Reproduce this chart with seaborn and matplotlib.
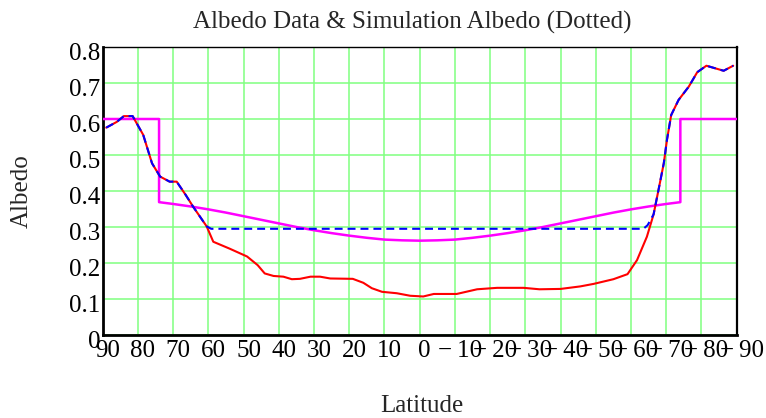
import matplotlib
matplotlib.use("Agg")
import matplotlib.pyplot as plt
import matplotlib.transforms as mtransforms
import seaborn as sns
import pandas as pd

# ---- data ----
data_lat = [89, 86, 84, 81.5, 78.5, 76, 73.7, 71, 69, 66.5, 64.3, 60.5, 58.6, 54, 49, 46,
            44, 41.5, 38.7, 36.3, 34, 31, 28.3, 25.4, 19, 16, 13.6, 10.7, 6.5, 2.7, -1, -4,
            -10.5, -16.3, -22, -29.5, -34, -40, -45.6, -49.4, -55, -59, -61.7, -64.5, -66.4,
            -67.8, -69.3, -70.2, -71.4, -73.5, -76.4, -78.8, -81.4, -86.3, -89]
data_alb = [0.576, 0.592, 0.608, 0.608, 0.556, 0.477, 0.440, 0.426, 0.426, 0.390, 0.356, 0.302,
            0.259, 0.240, 0.218, 0.194, 0.171, 0.164, 0.162, 0.155, 0.156, 0.162, 0.162, 0.157,
            0.156, 0.145, 0.130, 0.120, 0.116, 0.109, 0.107, 0.114, 0.114, 0.127, 0.131, 0.131,
            0.127, 0.128, 0.135, 0.142, 0.155, 0.169, 0.208, 0.273, 0.335, 0.403, 0.477, 0.542,
            0.611, 0.653, 0.690, 0.730, 0.748, 0.734, 0.748]

sim_lat = [89, 86, 84, 81.5, 78.5, 76, 73.7, 71, 69, 66.5, 64.3, 60.5, 59.2, -63.5, -64.7,
           -66.4, -67.8, -69.3, -70.2, -71.4, -73.5, -76.4, -78.8, -81.4, -86.3, -89]
sim_alb = [0.576, 0.592, 0.608, 0.608, 0.556, 0.477, 0.440, 0.426, 0.426, 0.390, 0.356, 0.302,
           0.295, 0.295, 0.305, 0.335, 0.403, 0.477, 0.542, 0.611, 0.653, 0.690, 0.730, 0.748,
           0.734, 0.748]

model_lat = [90, 74, 74, 70, 65, 60, 55, 50, 45, 40, 35, 30, 25, 20, 15, 10, 5, 0,
             -5, -10, -15, -20, -25, -30, -35, -40, -45, -50, -55, -60, -65, -70, -74, -74, -90]
model_alb = [0.600, 0.600, 0.369, 0.364, 0.357, 0.349, 0.340, 0.330, 0.320, 0.310, 0.300,
             0.291, 0.283, 0.276, 0.270, 0.265, 0.263, 0.262, 0.263, 0.265, 0.270, 0.276,
             0.283, 0.291, 0.300, 0.310, 0.320, 0.330, 0.340, 0.349, 0.357, 0.364, 0.369,
             0.600, 0.600]

x_ticks = list(range(90, -91, -10))
x_tick_labels = [str(v) if v >= 0 else "\u2212\u2009" + str(-v) for v in x_ticks]
y_ticks = [0, 0.1, 0.2, 0.3, 0.4, 0.5, 0.6, 0.7, 0.8]
y_tick_labels = ["0", "0.1", "0.2", "0.3", "0.4", "0.5", "0.6", "0.7", "0.8"]

title = "Albedo Data & Simulation Albedo (Dotted)"
xlabel = "Latitude"
ylabel = "Albedo"

# ---- plotting ----
sns.set_theme(style="white")
plt.rcParams["font.family"] = ["Liberation Serif", "DejaVu Serif"]
plt.rcParams["font.size"] = 18

FS = 18

fig = plt.figure(figsize=(7.66, 4.18), dpi=100)
ax = fig.add_axes([102.7 / 766, 1 - 335 / 418, 634 / 766, 288 / 418])

df_model = pd.DataFrame({"lat": model_lat, "alb": model_alb})
df_data = pd.DataFrame({"lat": data_lat, "alb": data_alb})
df_sim = pd.DataFrame({"lat": sim_lat, "alb": sim_alb})

sns.lineplot(data=df_model, x="lat", y="alb", sort=False, estimator=None,
             color="#ff00ff", linewidth=1.8, ax=ax, zorder=3)
sns.lineplot(data=df_data, x="lat", y="alb", sort=False, estimator=None,
             color="#ff0000", linewidth=1.5, ax=ax, zorder=4)
sns.lineplot(data=df_sim, x="lat", y="alb", sort=False, estimator=None,
             color="#0000ff", linewidth=1.5, ax=ax, zorder=5, dashes=False)
ax.lines[-1].set_dashes((3.8, 2.4))

ax.set_xlim(90, -90)
ax.set_ylim(0, 0.8)
ax.set_xticks(x_ticks)
ax.set_xticklabels(x_tick_labels)
ax.set_yticks(y_ticks)
ax.set_yticklabels(y_tick_labels)

ax.grid(True, color="#80ff80", linewidth=1.1)
ax.set_axisbelow(True)
ax.tick_params(axis="both", which="both", length=0, width=0, labelsize=FS, colors="black",
               top=False, right=False)
ax.tick_params(axis="x", pad=3.5)
ax.tick_params(axis="y", pad=1.5)

for lbl in ax.get_xticklabels():
    lbl.set_transform(lbl.get_transform() + mtransforms.ScaledTranslation(5 / 100, 0, fig.dpi_scale_trans))
for lbl in ax.get_yticklabels():
    lbl.set_transform(lbl.get_transform() + mtransforms.ScaledTranslation(0, -4 / 100, fig.dpi_scale_trans))

for side, lw in (("left", 2.0), ("bottom", 2.0), ("right", 1.6), ("top", 1.0)):
    ax.spines[side].set_visible(True)
    ax.spines[side].set_color("black")
    ax.spines[side].set_linewidth(lw)

ax.set_title(title, fontsize=FS, pad=13, x=0.489)
ax.set_xlabel(xlabel, fontsize=FS)
ax.set_ylabel(ylabel, fontsize=FS)
ax.xaxis.set_label_coords(0.503, -0.246)
ax.xaxis.label.set_verticalalignment("center")
ax.yaxis.set_label_coords(-0.1275, 0.5)
ax.yaxis.label.set_verticalalignment("center")

fig.savefig("out.png", dpi=100)
